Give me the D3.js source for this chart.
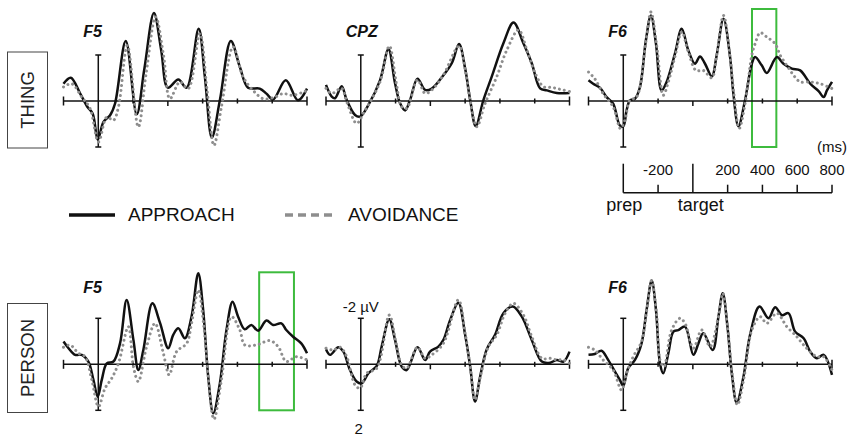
<!DOCTYPE html>
<html>
<head>
<meta charset="utf-8">
<script src="https://cdn.jsdelivr.net/npm/d3@7"></script>
<style>
  body { margin: 0; background: #fff; }
  svg { display: block; font-family: "Liberation Sans", Arial, Helvetica, sans-serif; }
</style>
</head>
<body>
<svg id="chart" width="850" height="440"></svg>
<script>
// [time ms, amplitude µV] - negative is drawn up
const thingF5Approach = [[-600,-0.75],[-558,-1.01],[-504,-0.32],[-462,0.26],[-432,0.55],[-403,1.68],[-370,0.91],[-332,0.62],[-304,0.12],[-242,-2.61],[-179,0.58],[-135,-1.4],[-80,-3.83],[-38,-2.2],[0,-0.58],[60,-0.93],[108,-0.58],[177,-3.14],[213,-1.04],[253,1.59],[299,-0.03],[362,-2.61],[414,-1.48],[461,-0.58],[528,-0.54],[567,-0.32],[605,-0.06],[678,-0.9],[748,-0.03],[800,-0.54]]
const thingF5Avoidance = [[-600,-0.61],[-552,-0.75],[-495,-0.17],[-447,0.33],[-399,1.78],[-351,0.70],[-313,0.84],[-284,0.26],[-233,-2.42],[-170,1.13],[-125,-1.2],[-70,-3.65],[-25,-2.0],[12,-0.10],[69,-0.83],[117,-0.54],[184,-2.93],[225,-0.5],[265,1.93],[308,0.26],[375,-2.35],[433,-1.04],[490,-0.46],[548,-0.10],[605,-0.14],[662,-0.32],[720,-0.25],[800,-0.46]]

const thingCPZApproach = [[-600,-0.70],[-567,-0.19],[-548,-0.12],[-510,-0.64],[-481,-0.04],[-433,0.61],[-404,0.68],[-356,0.17],[-289,-0.91],[-241,-2.25],[-203,-0.77],[-174,0.10],[-145,0.41],[-117,-0.04],[-74,-0.97],[-30,-0.48],[8,-0.54],[75,-1.12],[123,-1.64],[165,-2.48],[200,-1.41],[229,-0.04],[261,1.09],[305,-0.04],[353,-1.06],[420,-2.51],[478,-3.41],[535,-2.51],[583,-1.64],[631,-0.55],[670,-0.46],[727,-0.35],[800,-0.35]]
const thingCPZAvoidance = [[-600,-0.55],[-567,-0.33],[-510,-0.55],[-481,0.03],[-424,0.97],[-385,0.54],[-289,-0.84],[-236,-2.39],[-197,-0.84],[-165,0.25],[-136,0.32],[-74,-0.91],[-30,-0.33],[8,-0.48],[75,-1.13],[165,-2.39],[204,-1.2],[232,0.10],[267,1.12],[315,0.10],[382,-1.06],[440,-2.22],[507,-3.09],[555,-2.22],[603,-1.2],[651,-0.62],[699,-0.59],[746,-0.51],[800,-0.41]]

const thingF6Approach = [[-600,-0.90],[-573,-0.75],[-535,-0.58],[-496,-0.17],[-458,0.12],[-420,1.06],[-400,1.10],[-381,0.41],[-362,-0.03],[-333,-0.10],[-304,-0.61],[-270,-2.64],[-241,-3.72],[-212,-2.49],[-180,-0.46],[-151,-0.83],[-103,-2.06],[-64,-3.14],[-26,-2.20],[12,-1.62],[41,-1.94],[70,-1.62],[109,-1.07],[137,-1.99],[176,-3.58],[214,-1.91],[233,-0.32],[262,1.10],[300,-0.03],[339,-1.62],[358,-1.91],[396,-1.55],[425,-1.22],[483,-1.91],[521,-1.62],[569,-1.41],[617,-1.33],[675,-0.75],[723,-0.43],[752,-0.17],[771,-0.46],[800,-0.83]]
const thingF6Avoidance = [[-600,-1.26],[-564,-0.97],[-516,-0.32],[-458,0.26],[-416,1.20],[-391,0.84],[-362,-0.03],[-324,-0.17],[-270,-2.57],[-241,-3.87],[-208,-2.42],[-170,-0.25],[-141,-0.83],[-103,-1.93],[-64,-3.0],[-26,-2.13],[18,-1.33],[60,-1.33],[109,-1.01],[137,-1.99],[176,-3.72],[214,-1.91],[237,-0.25],[266,1.20],[300,0.12],[339,-1.99],[358,-2.49],[387,-2.97],[425,-2.78],[473,-2.49],[502,-1.99],[540,-1.55],[579,-1.12],[617,-0.83],[675,-0.83],[733,-0.75],[800,-0.54]]

const personF5Approach = [[-600,-0.99],[-571,-0.70],[-533,-0.41],[-495,-0.41],[-457,-0.12],[-428,0.68],[-403,1.41],[-380,0.68],[-351,-0.04],[-313,-0.12],[-275,-0.91],[-237,-2.80],[-198,-1.06],[-170,0.25],[-141,-0.62],[-89,-2.65],[-45,-1.8],[2,-0.70],[31,-1.28],[60,-1.57],[98,-1.13],[136,-2.07],[175,-3.96],[203,-2.36],[232,0.54],[261,2.13],[299,0.83],[337,-1.49],[372,-2.72],[404,-2.07],[442,-1.52],[480,-1.71],[519,-1.46],[567,-1.90],[605,-1.71],[653,-1.78],[681,-1.49],[720,-1.20],[767,-0.91],[800,-0.48]]
const personF5Avoidance = [[-600,-0.74],[-562,-0.84],[-514,-0.48],[-476,-0.33],[-437,0.68],[-399,1.84],[-361,1.04],[-323,0.61],[-284,-0.04],[-227,-1.64],[-198,0.10],[-170,0.75],[-122,-0.77],[-74,-1.78],[-26,-0.48],[8,0.46],[50,-0.55],[108,-0.91],[136,-1.78],[175,-3.23],[207,-1.64],[232,0.54],[265,2.39],[308,0.68],[366,-2.07],[414,-1.49],[442,-0.84],[509,-0.84],[586,-1.03],[634,-0.77],[681,-0.12],[739,-0.33],[800,-0.19]]

const personCPZApproach = [[-600,-0.65],[-577,-0.41],[-529,-0.74],[-500,-0.55],[-462,0.25],[-424,0.75],[-395,0.83],[-356,0.39],[-308,0.07],[-280,-0.77],[-236,-1.96],[-203,-1.06],[-165,0.10],[-136,0.25],[-74,-0.74],[-30,-0.19],[-2,-0.55],[46,-0.77],[75,-1.06],[114,-1.93],[161,-2.68],[200,-1.28],[229,0.10],[257,1.62],[286,0.54],[324,-0.65],[372,-1.28],[420,-2.22],[474,-2.51],[526,-2.07],[583,-1.06],[641,-0.12],[689,-0.07],[727,-0.19],[766,-0.12],[800,-0.55]]
const personCPZAvoidance = [[-600,-0.70],[-558,-0.62],[-519,-0.74],[-481,-0.33],[-433,0.90],[-404,1.04],[-366,0.39],[-308,0.17],[-236,-2.14],[-197,-0.91],[-165,0.03],[-136,0.17],[-74,-0.74],[-30,-0.26],[8,-0.41],[75,-0.91],[161,-2.80],[200,-1.35],[229,0.10],[257,1.55],[290,0.46],[334,-0.77],[382,-1.28],[430,-2.22],[478,-2.65],[535,-2.14],[583,-1.20],[641,-0.26],[689,-0.26],[727,-0.19],[766,-0.19],[800,-0.04]]

const personF6Approach = [[-600,-0.41],[-564,-0.45],[-525,-0.59],[-487,-0.19],[-448,0.32],[-420,0.68],[-400,0.94],[-372,0.17],[-333,-0.19],[-295,-0.91],[-266,-2.36],[-237,-3.64],[-212,-2.36],[-189,-0.04],[-170,0.39],[-141,-0.48],[-112,-1.42],[-84,-1.49],[-45,-1.64],[3,-0.41],[32,-0.91],[60,-1.35],[114,-0.62],[147,-2.07],[172,-3.09],[199,-1.64],[224,0.39],[252,1.67],[291,0.54],[329,-1.28],[383,-2.51],[435,-2.0],[473,-2.48],[512,-2.14],[550,-2.22],[588,-1.42],[637,-1.13],[675,-0.55],[713,-0.26],[752,-0.41],[800,0.46]]
const personF6Avoidance = [[-600,-0.74],[-564,-0.62],[-516,-0.19],[-458,0.25],[-410,1.12],[-381,0.39],[-343,-0.33],[-295,-0.99],[-262,-2.51],[-237,-3.64],[-208,-2.14],[-189,-0.19],[-166,0.10],[-122,-1.49],[-74,-2.0],[-45,-1.78],[3,-0.70],[51,-1.49],[99,-0.77],[147,-2.07],[172,-3.09],[199,-1.64],[228,0.54],[256,1.77],[295,0.54],[339,-1.49],[387,-2.07],[425,-1.78],[483,-2.22],[540,-1.64],[598,-1.20],[637,-0.84],[713,-0.33],[752,-0.33],[800,0.25]]

const tickTimes = [-600, -200, 0, 200, 400, 600, 800]
const scaleBarTime = -400
const scaleBarRange = [-2, 2]
const timeLabels = [-200, 200, 400, 600, 800]
const eventTimes = [-400, 0]
const eventNames = ['prep', 'target']
const greenThing = [340, 480]
const greenPerson = [525, 725]
const rowNames = ['THING', 'PERSON']
const seriesNames = ['APPROACH', 'AVOIDANCE']

const panels = [
  {row: 0, col: 0, name: 'F5', app: thingF5Approach, avo: thingF5Avoidance},
  {row: 0, col: 1, name: 'CPZ', app: thingCPZApproach, avo: thingCPZAvoidance},
  {row: 0, col: 2, name: 'F6', app: thingF6Approach, avo: thingF6Avoidance, box: greenThing},
  {row: 1, col: 0, name: 'F5', app: personF5Approach, avo: personF5Avoidance, box: greenPerson},
  {row: 1, col: 1, name: '', app: personCPZApproach, avo: personCPZAvoidance, scaleLabels: true},
  {row: 1, col: 2, name: 'F6', app: personF6Approach, avo: personF6Avoidance}
]

const colX = [[63.5, 307], [326, 569.5], [588.5, 832]]
const rowBase = [101, 364.3]
const labelY = [37, 293]
const half = 46
const ink = '#111'
const grey = '#8e8e8e'
const green = '#3dbb3d'

const svg = d3.select('#chart')
svg.append('rect').attr('width', 850).attr('height', 440).attr('fill', '#fff')

let xF6 // scale used for the time axis under the top-right panel

panels.forEach(p => {
  const base = rowBase[p.row]
  const x = d3.scaleLinear().domain([-600, 800]).range(colX[p.col])
  const y = d3.scaleLinear().domain([-2, 2]).range([base - half, base + half])
  if (p.row === 0 && p.col === 2) xF6 = x
  const g = svg.append('g')

  if (p.box) {
    g.append('rect')
      .attr('x', x(p.box[0])).attr('width', x(p.box[1]) - x(p.box[0]))
      .attr('y', y(-4)).attr('height', y(2) - y(-4))
      .attr('fill', 'none').attr('stroke', green).attr('stroke-width', 2)
  }

  // baseline and ticks
  g.append('line')
    .attr('x1', x(-600)).attr('x2', x(800)).attr('y1', base).attr('y2', base)
    .attr('stroke', ink).attr('stroke-width', 1.5)
  g.selectAll('line.tick').data(tickTimes).enter().append('line')
    .attr('class', 'tick')
    .attr('x1', d => x(d)).attr('x2', d => x(d))
    .attr('y1', d => (d === -600 || d === 800) ? base - 4.5 : d === 0 ? base : base - 2.5)
    .attr('y2', d => (d === -600 || d === 800) ? base + 4.5 : d === 0 ? base + 5 : base + 2.5)
    .attr('stroke', ink).attr('stroke-width', 1.5)

  // scale bar
  const sx = x(scaleBarTime)
  g.append('line').attr('x1', sx).attr('x2', sx)
    .attr('y1', y(scaleBarRange[0])).attr('y2', y(scaleBarRange[1]))
    .attr('stroke', ink).attr('stroke-width', 1.5)
  g.selectAll('line.cap').data(scaleBarRange).enter().append('line')
    .attr('class', 'cap')
    .attr('x1', sx - 3).attr('x2', sx + 3)
    .attr('y1', d => y(d)).attr('y2', d => y(d))
    .attr('stroke', ink).attr('stroke-width', 1.5)

  if (p.scaleLabels) {
    g.append('text').attr('x', sx).attr('y', y(scaleBarRange[0]) - 6)
      .attr('text-anchor', 'middle').attr('font-size', 15).attr('fill', ink)
      .text(scaleBarRange[0] + ' \u00b5V')
    g.append('text').attr('x', sx - 2).attr('y', y(scaleBarRange[1]) + 24)
      .attr('text-anchor', 'middle').attr('font-size', 15).attr('fill', ink)
      .text(scaleBarRange[1])
  }

  const line = d3.line()
    .x(d => x(d[0])).y(d => y(d[1]))
    .curve(d3.curveCatmullRom.alpha(0.5))

  g.append('path').datum(p.app).attr('d', line)
    .attr('fill', 'none').attr('stroke', ink).attr('stroke-width', 2.5)
    .attr('stroke-linejoin', 'round')
  g.append('path').datum(p.avo).attr('d', line)
    .attr('fill', 'none').attr('stroke', grey).attr('stroke-width', 3)
    .attr('stroke-dasharray', '0.01 5').attr('stroke-linecap', 'round')

  if (p.name) {
    g.append('text').attr('x', sx - 15).attr('y', labelY[p.row])
      .attr('font-size', 16).attr('font-weight', 'bold').attr('font-style', 'italic')
      .attr('fill', ink).text(p.name)
  }
})

// time axis under top-right panel
const axY = 192.7
const ta = svg.append('g')
ta.append('line').attr('x1', xF6(eventTimes[0])).attr('x2', xF6(800))
  .attr('y1', axY).attr('y2', axY).attr('stroke', ink).attr('stroke-width', 1.5)
ta.selectAll('line.short').data(timeLabels).enter().append('line')
  .attr('class', 'short')
  .attr('x1', d => xF6(d)).attr('x2', d => xF6(d))
  .attr('y1', axY - 8).attr('y2', axY)
  .attr('stroke', ink).attr('stroke-width', 1.5)
ta.selectAll('line.event').data(eventTimes).enter().append('line')
  .attr('class', 'event')
  .attr('x1', d => xF6(d)).attr('x2', d => xF6(d))
  .attr('y1', axY - 29).attr('y2', axY)
  .attr('stroke', ink).attr('stroke-width', 1.5)
ta.selectAll('text.tl').data(timeLabels).enter().append('text')
  .attr('class', 'tl')
  .attr('x', d => xF6(d)).attr('y', axY - 18)
  .attr('text-anchor', 'middle').attr('font-size', 15).attr('fill', ink)
  .text(d => d)
ta.selectAll('text.ev').data(eventTimes).enter().append('text')
  .attr('class', 'ev')
  .attr('x', (d, i) => xF6(d) + (i === 0 ? 1 : 8)).attr('y', axY + 18.5)
  .attr('text-anchor', 'middle').attr('font-size', 18).attr('fill', ink)
  .text((d, i) => eventNames[i])
ta.append('text').attr('x', 847).attr('y', 152)
  .attr('text-anchor', 'end').attr('font-size', 15).attr('fill', ink)
  .text('(ms)')

// row labels
const rowBoxes = [[52, 96], [303.5, 109]]
rowNames.forEach((name, i) => {
  const [top, h] = rowBoxes[i]
  svg.append('rect').attr('x', 7.5).attr('y', top).attr('width', 40).attr('height', h)
    .attr('fill', 'none').attr('stroke', '#444').attr('stroke-width', 1)
  svg.append('text')
    .attr('transform', `translate(${27.5 + 6.5},${top + h / 2}) rotate(-90)`)
    .attr('text-anchor', 'middle').attr('font-size', 18.5).attr('fill', '#222')
    .text(name)
})

// legend
const lg = svg.append('g')
lg.append('line').attr('x1', 69).attr('x2', 115).attr('y1', 215).attr('y2', 215)
  .attr('stroke', ink).attr('stroke-width', 3.5)
lg.append('line').attr('x1', 285).attr('x2', 333).attr('y1', 215).attr('y2', 215)
  .attr('stroke', grey).attr('stroke-width', 3.5).attr('stroke-dasharray', '8 5')
lg.selectAll('text').data(seriesNames).enter().append('text')
  .attr('x', (d, i) => i === 0 ? 128 : 348).attr('y', 221)
  .attr('font-size', 19).attr('fill', ink)
  .text(d => d)
</script>
</body>
</html>
